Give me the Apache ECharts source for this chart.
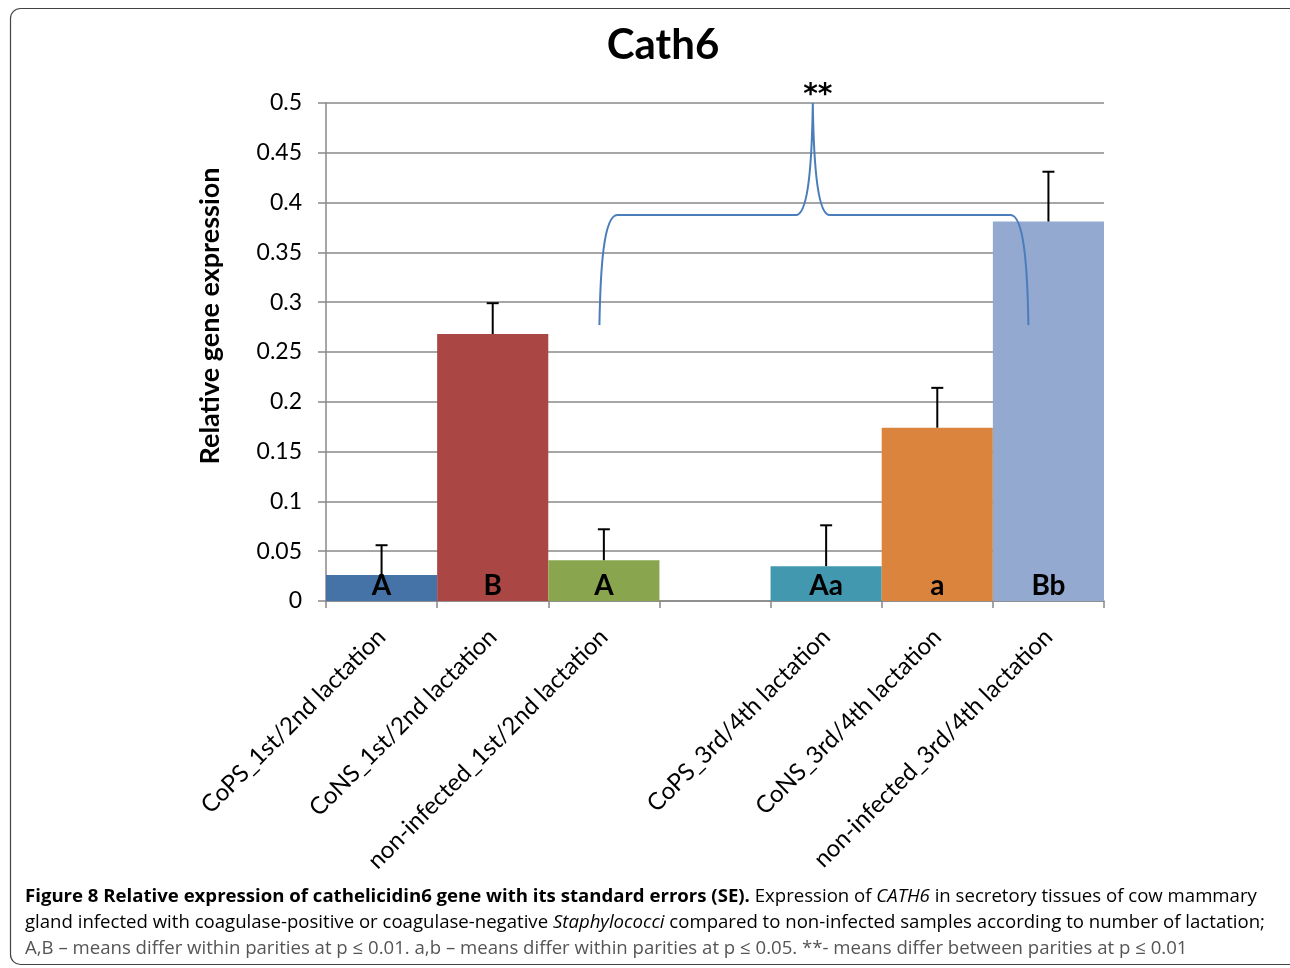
<!DOCTYPE html>
<html>
<head>
<meta charset="utf-8">
<script src="https://cdn.jsdelivr.net/npm/echarts@6/dist/echarts.min.js"></script>
<style>
html,body{margin:0;padding:0;background:#fff;}
#chart{width:1290px;height:968px;}
</style>
</head>
<body>
<div id="chart"></div>
<script>
// ---- data ----
const categories = [
  'CoPS_1st/2nd lactation',
  'CoNS_1st/2nd lactation',
  'non-infected_1st/2nd lactation',
  '',
  'CoPS_3rd/4th lactation',
  'CoNS_3rd/4th lactation',
  'non-infected_3rd/4th lactation'
];
const values    = [0.026, 0.268, 0.041, null, 0.035, 0.174, 0.381];
const errorTops = [0.056, 0.299, 0.072, null, 0.076, 0.214, 0.431];
const letters   = ['A', 'B', 'A', '', 'Aa', 'a', 'Bb'];
const barColors = ['#4572A7', '#AA4643', '#89A54E', '#ffffff', '#4198AF', '#DB843D', '#93A9CF'];
const yTicks = { min: 0, max: 0.5, interval: 0.05 };
// bracket annotation (x in category-index units, y in data units)
const bracketX = [1.96, 3.88, 5.82];     // left end, peak, right end
const bracketY = [0.277, 0.3875, 0.5];   // ends, horizontal bar, peak
const bracketLabel = '**';

const chart = echarts.init(document.getElementById('chart'));
const gridGray = '#888888';
const FONT = 'Lato';

const option = {
  animation: false,
  backgroundColor: '#ffffff',
  title: {
    text: 'Cath6',
    left: 658, top: 19,
    textAlign: 'center',
    textStyle: { fontFamily: FONT, fontWeight: 'bold', fontSize: 42, color: '#000' }
  },
  grid: { left: 326, right: 186, top: 103, bottom: 367, containLabel: false },
  xAxis: [{
    type: 'category',
    data: categories,
    axisLine: { show: true, lineStyle: { color: gridGray, width: 1.5 } },
    axisTick: { show: true, length: 7, lineStyle: { color: gridGray, width: 1.5 } },
    axisLabel: { interval: 0, rotate: 45, fontFamily: FONT, fontSize: 24, color: '#000', margin: 32 },
    splitLine: { show: false }
  }, {
    type: 'value', min: -0.5, max: 6.5, show: false
  }],
  yAxis: {
    type: 'value',
    min: yTicks.min, max: yTicks.max, interval: yTicks.interval,
    axisLine: { show: true, onZero: false, lineStyle: { color: gridGray, width: 1.5 } },
    axisTick: { show: true, length: 8, lineStyle: { color: gridGray, width: 1.5 } },
    axisLabel: { fontFamily: FONT, fontSize: 23, color: '#000', margin: 24 },
    splitLine: { show: true, lineStyle: { color: gridGray, width: 1.5 } }
  },
  series: [{
    type: 'bar',
    xAxisIndex: 0,
    barCategoryGap: '0%',
    z: 2,
    data: values.map((v, i) => ({
      value: v == null ? '-' : v,
      itemStyle: { color: barColors[i] },
      label: { formatter: letters[i] }
    })),
    label: {
      show: true, position: 'insideBottom', distance: 1,
      fontFamily: FONT, fontWeight: 'bold', fontSize: 28, color: '#000'
    }
  }, {
    type: 'custom',
    xAxisIndex: 0,
    z: 3,
    data: values.map((v, i) => v == null ? null : [i, v, errorTops[i]]).filter(d => d),
    renderItem: function (params, api) {
      const i = api.value(0);
      const lo = api.coord([i, api.value(1)]);
      const hi = api.coord([i, api.value(2)]);
      const cap = 6;
      return {
        type: 'group',
        children: [{
          type: 'line',
          shape: { x1: hi[0], y1: lo[1], x2: hi[0], y2: hi[1] },
          style: { stroke: '#000', lineWidth: 2 }
        }, {
          type: 'line',
          shape: { x1: hi[0] - cap, y1: hi[1], x2: hi[0] + cap, y2: hi[1] },
          style: { stroke: '#000', lineWidth: 2 }
        }]
      };
    }
  }, {
    type: 'custom',
    xAxisIndex: 1,
    z: 4,
    data: [[bracketX[0], bracketX[1], bracketX[2], bracketY[0], bracketY[1], bracketY[2]]],
    renderItem: function (params, api) {
      const L = api.coord([api.value(0), api.value(3)]);
      const P = api.coord([api.value(1), api.value(5)]);
      const R = api.coord([api.value(2), api.value(3)]);
      const yb = api.coord([api.value(0), api.value(4)])[1];
      const k = 18, kp = 17;
      const path =
        'M' + L[0] + ' ' + L[1] +
        ' C' + (L[0] + 1) + ' ' + (yb + 55) + ' ' + (L[0] + 4) + ' ' + yb + ' ' + (L[0] + k) + ' ' + yb +
        ' L' + (P[0] - kp) + ' ' + yb +
        ' C' + (P[0] - 6) + ' ' + yb + ' ' + (P[0] - 1) + ' ' + (yb - 40) + ' ' + P[0] + ' ' + P[1] +
        ' C' + (P[0] + 1) + ' ' + (yb - 40) + ' ' + (P[0] + 6) + ' ' + yb + ' ' + (P[0] + kp) + ' ' + yb +
        ' L' + (R[0] - k) + ' ' + yb +
        ' C' + (R[0] - 4) + ' ' + yb + ' ' + (R[0] - 1) + ' ' + (yb + 55) + ' ' + R[0] + ' ' + R[1];
      return {
        type: 'group',
        children: [{
          type: 'path',
          shape: { pathData: path },
          style: { stroke: '#4A7EBB', lineWidth: 2, fill: null }
        }, {
          type: 'text',
          x: P[0] + 5, y: P[1] - 7,
          style: {
            text: bracketLabel, align: 'center', verticalAlign: 'middle',
            font: 'bold 28px "DejaVu Sans"', fill: '#000'
          }
        }]
      };
    }
  }],
  graphic: [{
    type: 'rect',
    shape: { x: 10.5, y: 8.5, width: 1292, height: 956, r: 10 },
    style: { stroke: '#444', lineWidth: 1.2, fill: null },
    silent: true
  }, {
    type: 'text',
    x: 210, y: 316,
    rotation: Math.PI / 2,
    style: {
      text: 'Relative gene expression', align: 'center', verticalAlign: 'middle',
      font: 'bold 27px ' + FONT, fill: '#000'
    }
  }, {
    type: 'text',
    x: 25, y: 897,
    style: {
      text: '{b|Figure 8 Relative expression of cathelicidin6 gene with its standard errors (SE).}{n| Expression of }{i|CATH6}{n| in secretory tissues of cow mammary}',
      verticalAlign: 'middle',
      rich: {
        b: { fontFamily: 'Open Sans', fontWeight: 'bold', fontSize: 18.6, color: '#222' },
        n: { fontFamily: 'Open Sans', fontSize: 18.6, color: '#555' },
        i: { fontFamily: 'Open Sans', fontStyle: 'italic', fontSize: 18.6, color: '#555' }
      }
    }
  }, {
    type: 'text',
    x: 25, y: 923,
    style: {
      text: '{n|gland infected with coagulase-positive or coagulase-negative }{i|Staphylococci}{n| compared to non-infected samples according to number of lactation;}',
      verticalAlign: 'middle',
      rich: {
        n: { fontFamily: 'Open Sans', fontSize: 18.6, color: '#555' },
        i: { fontFamily: 'Open Sans', fontStyle: 'italic', fontSize: 18.6, color: '#555' }
      }
    }
  }, {
    type: 'text',
    x: 25, y: 949,
    style: {
      text: 'A,B – means differ within parities at p ≤ 0.01. a,b – means differ within parities at p ≤ 0.05. **- means differ between parities at p ≤ 0.01',
      verticalAlign: 'middle',
      font: '18.6px "Open Sans"', fill: '#555'
    }
  }]
};
chart.setOption(option);
</script>
</body>
</html>
